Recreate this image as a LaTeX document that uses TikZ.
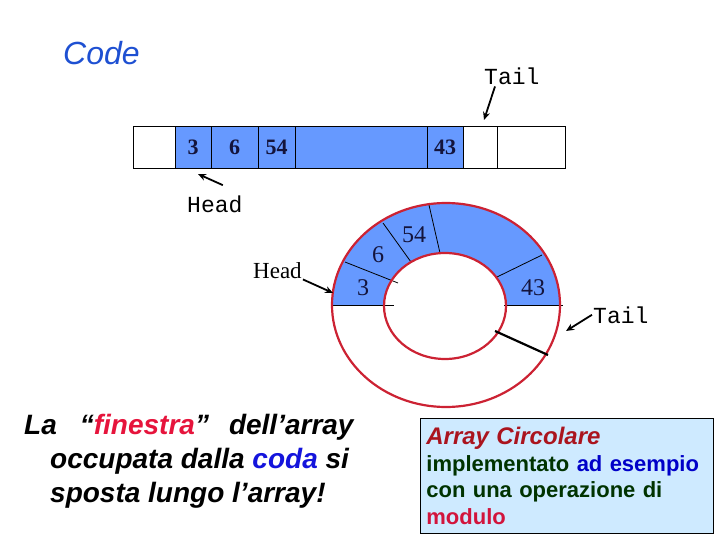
\documentclass[tikz,border=0pt]{standalone}
\usepackage{fontspec}
\usepackage{tikz}
\usepackage{xcolor}
\usetikzlibrary{calc}
\usetikzlibrary{positioning}
\usetikzlibrary{arrows.meta}

\newfontfamily\sansfnt{Liberation Sans}
\newfontfamily\monofnt{Liberation Mono}
\newfontfamily\seriffnt{Liberation Serif}

\definecolor{blu}{RGB}{102,153,255}
\definecolor{rossoanello}{RGB}{204,34,51}
\definecolor{codeblu}{RGB}{30,80,210}
\definecolor{navy}{RGB}{20,20,60}
\definecolor{rossofin}{RGB}{230,20,60}
\definecolor{bluscuro}{RGB}{20,20,220}
\definecolor{boxblu}{RGB}{206,234,255}
\definecolor{rossoarr}{RGB}{170,20,30}
\definecolor{verde}{RGB}{0,51,0}
\definecolor{bluad}{RGB}{0,0,200}
\definecolor{rossomod}{RGB}{210,20,60}

\tikzset{
  cella/.style={draw, line width=0.8pt, minimum height=42pt, inner sep=0pt, outer sep=0pt,
    text=navy, font=\seriffnt\bfseries\fontsize{22}{26}\selectfont},
  pfeil/.style={line width=1.8pt, -{Stealth[length=8pt,width=7pt]}},
  mono/.style={inner sep=1pt, font=\monofnt\fontsize{23}{27}\selectfont},
  numero/.style={inner sep=0pt, anchor=base, text=navy, font=\seriffnt\fontsize{24}{28}\selectfont},
  frase/.style={inner sep=0pt, anchor=base west, font=\sansfnt\bfseries\itshape\fontsize{28}{34}\selectfont}
}

\begin{document}
\begin{tikzpicture}[x=1pt,y=-1pt]
\useasboundingbox (0,0) rectangle (720,540);

\node[anchor=base west, inner sep=0pt, text=codeblu, font=\sansfnt\itshape\fontsize{32}{38}\selectfont] (titolo) at (63,65) {Code};

% array lineare
\node[cella, minimum width=42pt, anchor=west] (c1) at (133,147) {};
\node[cella, fill=blu, minimum width=36pt, right=0pt of c1] (c2) {3};
\node[cella, fill=blu, minimum width=47pt, right=0pt of c2] (c3) {6};
\node[cella, fill=blu, minimum width=37pt, right=0pt of c3] (c4) {54};
\node[cella, fill=blu, minimum width=132pt, right=0pt of c4] (c5) {};
\node[cella, fill=blu, minimum width=36pt, right=0pt of c5] (c6) {43};
\node[cella, minimum width=34pt, right=0pt of c6] (c7) {};
\node[cella, minimum width=68pt, right=0pt of c7] (c8) {};

\node[mono, anchor=base west] (tailA) at (483,85) {Tail};
\node[mono, anchor=base west] (headA) at (186,212) {Head};
\coordinate (tl) at (484,120);
\coordinate (hd) at (198,174);
\draw[pfeil] ([xshift=12pt]tailA.south west) -- (tl);
\draw[pfeil] ([xshift=8pt,yshift=9pt]headA.north) -- (hd);

% array circolare
\fill[blu] (332,305) arc[start angle=180, end angle=0, x radius=114pt, y radius=102pt]
  -- (506,306) arc[start angle=0, end angle=180, x radius=61pt, y radius=53pt] -- cycle;
\draw[line width=0.8pt] (332,305) -- (394,305);
\draw[line width=0.8pt] (504,305) -- (563,305);
\draw[line width=0.8pt] (345,262) -- (398,283);
\draw[line width=0.8pt] (383,223) -- (411,262);
\draw[line width=0.8pt] (429,205) -- (440,253);
\draw[line width=0.8pt] (542,255) -- (497,277);
\draw[rossoanello, line width=2.2pt] (446,305) ellipse [x radius=114pt, y radius=102pt];
\draw[rossoanello, line width=2.2pt] (445,306) ellipse [x radius=61pt, y radius=53pt];

\node[numero] (r3) at (363,295) {3};
\node[numero] (r6) at (378,262) {6};
\node[numero] (r54) at (414,243) {54};
\node[numero] (r43) at (533,295) {43};

\draw[line width=2.2pt] (495,331) -- (548,355);

\node[inner sep=1pt, anchor=base west, font=\seriffnt\fontsize{23}{27}\selectfont] (headR) at (252,278) {Head};
\node[mono, anchor=base west] (tailR) at (592,323) {Tail};
\coordinate (hr) at (333,293);
\coordinate (tr) at (566,331);
\draw[pfeil] (headR.south east) -- (hr);
\draw[pfeil] (tailR.west) -- (tr);

% testi in basso
\node[frase] (riga1) at (24,434) {La\hspace{23pt}“\textcolor{rossofin}{finestra}”\hspace{20pt}dell’array};
\node[frase] (riga2) at (50,468) {occupata dalla \textcolor{bluscuro}{coda} si};
\node[frase] (riga3) at (50,502) {sposta lungo l’array!};

\node[anchor=north west, draw, fill=boxblu, line width=0.8pt, text width=281pt, minimum height=115pt,
  inner xsep=6pt, inner ysep=4pt, align=left, font=\sansfnt\bfseries\fontsize{22}{26.5}\selectfont] (nota) at (420,418)
  {\textcolor{rossoarr}{\itshape\fontsize{24}{26.5}\selectfont Array Circolare}\\
   \textcolor{verde}{implementato} \textcolor{bluad}{ad esempio}\\
   \textcolor{verde}{con una operazione di}\\
   \textcolor{rossomod}{modulo}};

\end{tikzpicture}
\end{document}
